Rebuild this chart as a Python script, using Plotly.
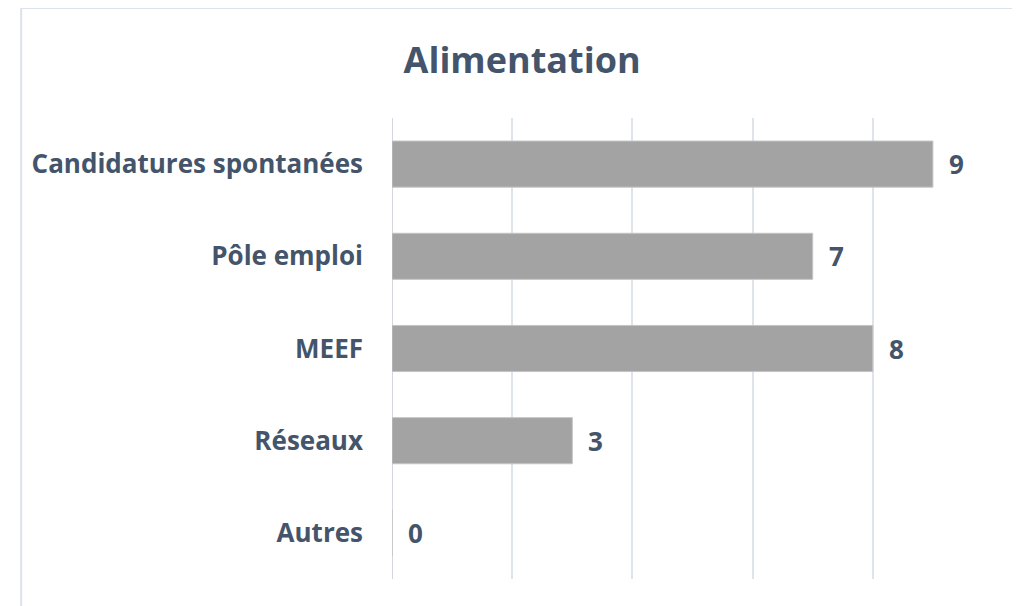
import plotly.graph_objects as go

categories = ["Candidatures spontanées", "Pôle emploi", "MEEF", "Réseaux", "Autres"]
values = [9, 7, 8, 3, 0]
title_text = "Alimentation"

TEXT = "#44546a"
FONT = "Open Sans"

fig = go.Figure()
fig.add_trace(go.Bar(
    x=values, y=categories, orientation="h", width=0.5,
    marker=dict(color="#a3a3a3", line=dict(color="#c4c4c4", width=1)),
    hoverinfo="skip",
))

for v, c in zip(values, categories):
    fig.add_annotation(x=v, y=c, text=str(v), showarrow=False, xanchor="left",
                       xshift=14, font=dict(family=FONT, size=26, color=TEXT, weight="bold"))

# outer chart frame
fig.add_shape(type="rect", xref="paper", yref="paper", x0=-0.617, x1=1.3, y0=-0.3, y1=1.2386,
              line=dict(color="#dce2ea", width=2), layer="below")

fig.update_layout(
    width=1020, height=606,
    margin=dict(l=384, r=35, t=110, b=35),
    paper_bgcolor="white", plot_bgcolor="white",
    showlegend=False,
    title=dict(text=title_text, x=0.504, xref="container", xanchor="center",
               y=0.914, yref="container", yanchor="middle",
               font=dict(family=FONT, size=36, color=TEXT, weight="bold")),
    xaxis=dict(range=[0, 10], dtick=2, showticklabels=False, showgrid=True,
               gridcolor="#dfe3ea", gridwidth=2, zeroline=False, showline=False,
               fixedrange=True),
    yaxis=dict(autorange="reversed", showgrid=False, showline=False, zeroline=False,
               ticklabelstandoff=28,
               tickfont=dict(family=FONT, size=26, color=TEXT, weight="bold")),
)
fig.add_vline(x=0, line=dict(color="#d4d8de", width=2), layer="below")

fig.write_html("out.html")
